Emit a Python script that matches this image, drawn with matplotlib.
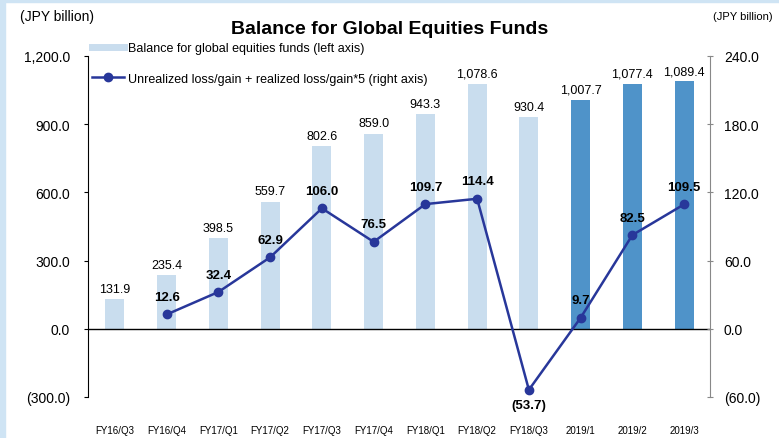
import matplotlib
matplotlib.use("Agg")
import matplotlib.pyplot as plt
from matplotlib.lines import Line2D
from matplotlib.patches import Rectangle
import numpy as np

plt.rcParams['font.family'] = ['Liberation Sans', 'DejaVu Sans']

# DATA
categories = ['FY16/Q3', 'FY16/Q4', 'FY17/Q1', 'FY17/Q2', 'FY17/Q3', 'FY17/Q4',
              'FY18/Q1', 'FY18/Q2', 'FY18/Q3', '2019/1', '2019/2', '2019/3']
balance = [131.9, 235.4, 398.5, 559.7, 802.6, 859.0, 943.3, 1078.6, 930.4,
           1007.7, 1077.4, 1089.4]
gain = [np.nan, 12.6, 32.4, 62.9, 106.0, 76.5, 109.7, 114.4, -53.7, 9.7, 82.5, 109.5]
highlight = [False] * 9 + [True] * 3

LIGHT = '#c9ddee'
DARK = '#4f93c9'
NAVY = '#28379a'


def fmt(v):
    s = f"{abs(v):,.1f}"
    return f"({s})" if v < 0 else s


fig = plt.figure(figsize=(7.79, 4.39), dpi=100)
ax = fig.add_axes([88 / 779, 1 - 398 / 439, (710 - 88) / 779, (398 - 57) / 439])
ax2 = ax.twinx()

# bars (left axis)
x = np.arange(len(categories))
colors = [DARK if h else LIGHT for h in highlight]
ax.bar(x, balance, width=0.37, color=colors, zorder=2)
for xi, v in zip(x, balance):
    ax.text(xi, v + 18, fmt(v), ha='center', va='bottom', fontsize=9)

ax.set_xlim(-0.52, 11.5)
ax.set_ylim(-300, 1200)
yt = np.arange(-300, 1201, 300)
ax.set_yticks(yt)
ax.set_yticklabels([fmt(t) for t in yt], fontsize=10)
ax.axhline(0, color='black', lw=1, zorder=3)
ax.set_xticks(x)
ax.set_xticklabels(categories, fontsize=7)
ax.tick_params(axis='x', length=0, pad=20)
ax.tick_params(axis='y', length=3, pad=10)
for s in ['top', 'bottom', 'right']:
    ax.spines[s].set_visible(False)

# line (right axis)
ax2.plot(x, gain, color=NAVY, lw=1.8, marker='o', markersize=6, zorder=4)
for xi, v in zip(x, gain):
    if np.isnan(v):
        continue
    if v < 0:
        ax2.text(xi, v - 8, fmt(v), ha='center', va='top', fontsize=9.5, fontweight='bold')
    else:
        ax2.text(xi, v + 10, fmt(v), ha='center', va='bottom', fontsize=9.5, fontweight='bold')
ax2.set_ylim(-60, 240)
yt2 = np.arange(-60, 241, 60)
ax2.set_yticks(yt2)
ax2.set_yticklabels([fmt(t) for t in yt2], fontsize=10)
ax2.tick_params(axis='y', length=4, direction='inout', color='#888888', pad=8)
for s in ['top', 'bottom', 'left']:
    ax2.spines[s].set_visible(False)
ax2.spines['right'].set_color('#888888')

handles = [Line2D([], [], color=LIGHT, lw=5),
           Line2D([], [], color=NAVY, lw=1.8, marker='o', markersize=6)]
labels = ['Balance for global equities funds (left axis)',
          'Unrealized loss/gain + realized loss/gain*5 (right axis)']
ax2.legend(handles, labels, loc='upper left', bbox_to_anchor=(-0.012, 1.074),
           frameon=False, fontsize=9, handlelength=2.6, labelspacing=1.5,
           handletextpad=0.3)

fig.text(390 / 779, 1 - 30 / 439, 'Balance for Global Equities Funds',
         ha='center', va='center', fontsize=14, fontweight='bold')
fig.text(20 / 779, 1 - 17 / 439, '(JPY billion)', ha='left', va='center', fontsize=10)
fig.text(773 / 779, 1 - 17 / 439, '(JPY billion)', ha='right', va='center', fontsize=8)

# light blue frame edges
fig.patches.append(Rectangle((0, 0), 5 / 779, 1, transform=fig.transFigure,
                             color='#cfe4f4', zorder=0))
fig.patches.append(Rectangle((0, 1 - 3 / 439), 1, 3 / 439, transform=fig.transFigure,
                             color='#cfe4f4', zorder=0))

fig.savefig('out.png', dpi=100)
